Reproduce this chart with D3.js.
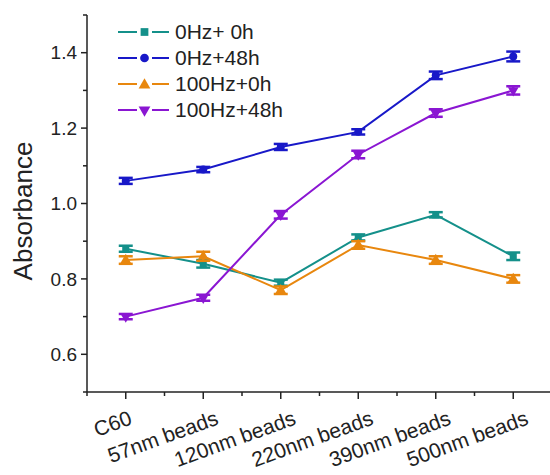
<!DOCTYPE html>
<html>
<head>
<meta charset="utf-8">
<script src="https://cdn.jsdelivr.net/npm/d3@7"></script>
<style>
  body { margin: 0; background: #fff; }
  text { font-family: "Liberation Sans", Arial, sans-serif; fill: #222; }
</style>
</head>
<body>
<div id="chart"></div>
<script>
// data
const categories = ['C60', '57nm beads', '120nm beads', '220nm beads', '390nm beads', '500nm beads'];
const seriesNames = ['0Hz+ 0h', '0Hz+48h', '100Hz+0h', '100Hz+48h'];
const hz0h = [0.88, 0.84, 0.79, 0.91, 0.97, 0.86];
const hz0h48 = [1.06, 1.09, 1.15, 1.19, 1.34, 1.39];
const hz100h0 = [0.85, 0.86, 0.77, 0.89, 0.85, 0.80];
const hz100h48 = [0.70, 0.75, 0.97, 1.13, 1.24, 1.30];
const err0h = [0.008, 0.01, 0.008, 0.008, 0.007, 0.01];
const err0h48 = [0.008, 0.007, 0.008, 0.007, 0.01, 0.013];
const err100h0 = [0.01, 0.012, 0.01, 0.01, 0.01, 0.01];
const err100h48 = [0.007, 0.008, 0.01, 0.01, 0.01, 0.011];
const yTicks = [0.6, 0.8, 1.0, 1.2, 1.4];
const yMinor = [0.5, 0.7, 0.9, 1.1, 1.3, 1.5];

const colors = ['#14908a', '#1818c8', '#e8870e', '#8a16d2'];
const symbols = [d3.symbolSquare, d3.symbolCircle, d3.symbolTriangle, d3.symbolTriangle];
const series = [
    {name: seriesNames[0], values: hz0h, err: err0h},
    {name: seriesNames[1], values: hz0h48, err: err0h48},
    {name: seriesNames[2], values: hz100h0, err: err100h0},
    {name: seriesNames[3], values: hz100h48, err: err100h48}
];

const width = 550, height = 475;
const svg = d3.select('#chart').append('svg')
    .attr('width', width)
    .attr('height', height);

// scales
const x = d3.scaleLinear().domain([-0.5, 5.5]).range([87, 552]);
const y = d3.scaleLinear().domain([0.5, 1.5]).range([392, 15]);

// y axis
const yAxis = svg.append('g').attr('transform', 'translate(87,0)');
yAxis.append('line').attr('y1', y(0.5)).attr('y2', y(1.5)).attr('stroke', '#222').attr('stroke-width', 1.5);
yAxis.selectAll('.ymaj').data(yTicks).enter().append('line')
    .attr('x1', -6).attr('x2', 0)
    .attr('y1', d => y(d)).attr('y2', d => y(d))
    .attr('stroke', '#222').attr('stroke-width', 1.5);
yAxis.selectAll('.ymin').data(yMinor).enter().append('line')
    .attr('x1', -4).attr('x2', 0)
    .attr('y1', d => y(d)).attr('y2', d => y(d))
    .attr('stroke', '#222').attr('stroke-width', 1.5);
yAxis.selectAll('.ylab').data(yTicks).enter().append('text')
    .attr('x', -10).attr('y', d => y(d)).attr('dy', '0.35em')
    .attr('text-anchor', 'end')
    .style('font-size', '19px')
    .text(d => d3.format('.1f')(d));

// x axis
const xAxis = svg.append('g').attr('transform', `translate(0,${y(0.5)})`);
xAxis.append('line').attr('x1', x(-0.5)).attr('x2', x(5.5)).attr('stroke', '#222').attr('stroke-width', 1.5);
xAxis.selectAll('.xmaj').data(categories).enter().append('line')
    .attr('x1', (d, i) => x(i)).attr('x2', (d, i) => x(i))
    .attr('y1', 0).attr('y2', 7)
    .attr('stroke', '#222').attr('stroke-width', 1.5);
xAxis.selectAll('.xmin').data(d3.range(-0.5, 5.6, 1)).enter().append('line')
    .attr('x1', d => x(d)).attr('x2', d => x(d))
    .attr('y1', 0).attr('y2', 4)
    .attr('stroke', '#222').attr('stroke-width', 1.5);
xAxis.selectAll('.xlab').data(categories).enter().append('text')
    .attr('text-anchor', 'end')
    .attr('transform', (d, i) => `translate(${x(i) + (i === 0 ? 2 : 11)},${17}) rotate(-20)`)
    .attr('dy', '0.75em')
    .style('font-size', '21px')
    .text(d => d);

// y title
svg.append('text')
    .attr('transform', 'translate(32,211) rotate(-90)')
    .attr('text-anchor', 'middle')
    .style('font-size', '26px')
    .text('Absorbance');

// series
const line = d3.line().x((d, i) => x(i)).y(d => y(d));
series.forEach((s, k) => {
    const g = svg.append('g');
    g.append('path')
        .datum(s.values)
        .attr('d', line)
        .attr('fill', 'none')
        .attr('stroke', colors[k])
        .attr('stroke-width', 2);
    // error bars
    s.values.forEach((v, i) => {
        const e = s.err[i];
        g.append('line')
            .attr('x1', x(i)).attr('x2', x(i))
            .attr('y1', y(v - e)).attr('y2', y(v + e))
            .attr('stroke', colors[k]).attr('stroke-width', 2.5);
        [v - e, v + e].forEach(c => {
            g.append('line')
                .attr('x1', x(i) - 7).attr('x2', x(i) + 7)
                .attr('y1', y(c)).attr('y2', y(c))
                .attr('stroke', colors[k]).attr('stroke-width', 2.5);
        });
    });
    g.selectAll('.pt').data(s.values).enter().append('path')
        .attr('d', d3.symbol().type(symbols[k]).size(50))
        .attr('transform', (d, i) => `translate(${x(i)},${y(d)})${k === 3 ? ' rotate(180)' : ''}`)
        .attr('fill', colors[k]);
});

// legend
const legend = svg.append('g');
series.forEach((s, k) => {
    const ly = 32 + k * 26;
    const row = legend.append('g').attr('transform', `translate(0,${ly})`);
    row.append('line').attr('x1', 118).attr('x2', 137).attr('y1', 0).attr('y2', 0)
        .attr('stroke', colors[k]).attr('stroke-width', 2);
    row.append('line').attr('x1', 152).attr('x2', 169).attr('y1', 0).attr('y2', 0)
        .attr('stroke', colors[k]).attr('stroke-width', 2);
    row.append('path')
        .attr('d', d3.symbol().type(symbols[k]).size(60))
        .attr('transform', `translate(144.5,${k === 2 ? 1 : 0})${k === 3 ? ' rotate(180)' : ''}`)
        .attr('fill', colors[k]);
    row.append('text')
        .attr('x', 175).attr('y', 0).attr('dy', '0.35em')
        .style('font-size', '21px')
        .text(s.name);
});
</script>
</body>
</html>
